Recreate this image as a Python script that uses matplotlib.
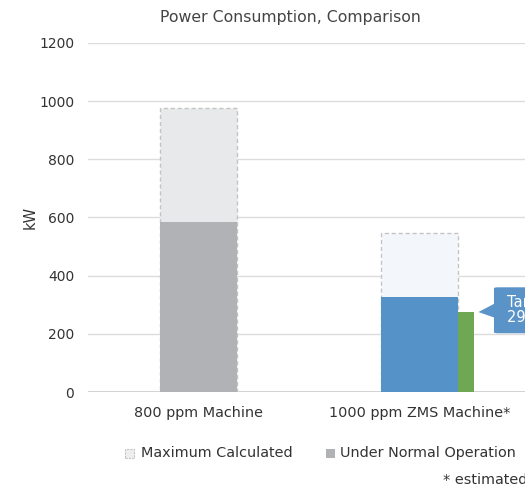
import matplotlib.pyplot as plt
from matplotlib.patches import FancyBboxPatch, Polygon

plt.rcParams['font.family'] = ['DejaVu Sans']

categories = ['800 ppm Machine', '1000 ppm ZMS Machine*']
max_calculated = [975, 545]
normal_operation = [585, 325]
target_value = 275
max_colors = ['#e8e9ea', '#f3f7fb']
normal_colors = ['#b1b2b5', '#5592c8']

fig = plt.figure(figsize=(5.25, 4.9), dpi=100)
ax = fig.add_axes([88 / 525, 98 / 490, 442 / 525, 349 / 490])

x = range(len(categories))
w = 0.35
ax.bar(x, max_calculated, width=w, color=max_colors, edgecolor='#c4c4c4',
       linestyle=(0, (3, 2)), linewidth=1, zorder=2)
ax.bar(x, normal_operation, width=w, color=normal_colors, linewidth=0, zorder=3)
# target bar next to the ZMS machine
gw = 0.072
ax.bar(1 + w / 2 + gw / 2, target_value, width=gw, color='#6fa754', linewidth=0, zorder=3)

ax.set_xlim(-0.5, 1.5)
ax.set_ylim(0, 1200)
ax.set_yticks(range(0, 1201, 200))
ax.grid(axis='y', color='#dcdcdc', linewidth=1, zorder=0)
ax.axhline(0, color='#c8c8c8', linewidth=1.2, zorder=1)
for s in ax.spines.values():
    s.set_visible(False)
ax.tick_params(length=0, labelsize=10, colors='#333333', pad=10)
ax.tick_params(axis='x', pad=10, labelsize=10.4)
ax.set_xticks(list(x))
ax.set_xticklabels(categories)
ax.set_ylabel('kW', fontsize=10.5, color='#333333', labelpad=1)
ax.set_title('Power Consumption, Comparison', fontsize=11.3, color='#444444', pad=15, x=0.457)

# callout
cx0 = 1 + w / 2 + gw + 0.09
ax.add_patch(FancyBboxPatch((cx0, 202), 0.3, 158, boxstyle='round,pad=0,rounding_size=0.02',
                            mutation_aspect=150, facecolor='#5a93c8', edgecolor='none',
                            zorder=4, clip_on=False))
ax.add_patch(Polygon([[cx0 + 0.005, 255], [cx0 + 0.005, 305], [cx0 - 0.07, 275]],
                     closed=True, facecolor='#5a93c8', edgecolor='none', zorder=4, clip_on=False))
ax.text(cx0 + 0.06, 281, 'Target\n290 kW', color='white', fontsize=10.5, va='center',
        ha='left', linespacing=1.0, zorder=5, clip_on=False)

# legend
fig.patches.append(plt.Rectangle((125 / 525, 1 - 458 / 490), 9 / 525, 9 / 490,
                                 transform=fig.transFigure, facecolor='#eeeeee',
                                 edgecolor='#c4c4c4', linestyle=(0, (2, 1)), linewidth=0.8))
fig.text(141 / 525, 1 - 453 / 490, 'Maximum Calculated', fontsize=10.4, color='#333333', va='center')
fig.patches.append(plt.Rectangle((326 / 525, 1 - 458 / 490), 9 / 525, 9 / 490,
                                 transform=fig.transFigure, facecolor='#b1b2b5',
                                 edgecolor='none'))
fig.text(340 / 525, 1 - 453 / 490, 'Under Normal Operation', fontsize=10.4, color='#333333', va='center')
fig.text(443 / 525, 1 - 480 / 490, '* estimated', fontsize=10.4, color='#333333', va='center')

fig.savefig('out.png', dpi=100)
